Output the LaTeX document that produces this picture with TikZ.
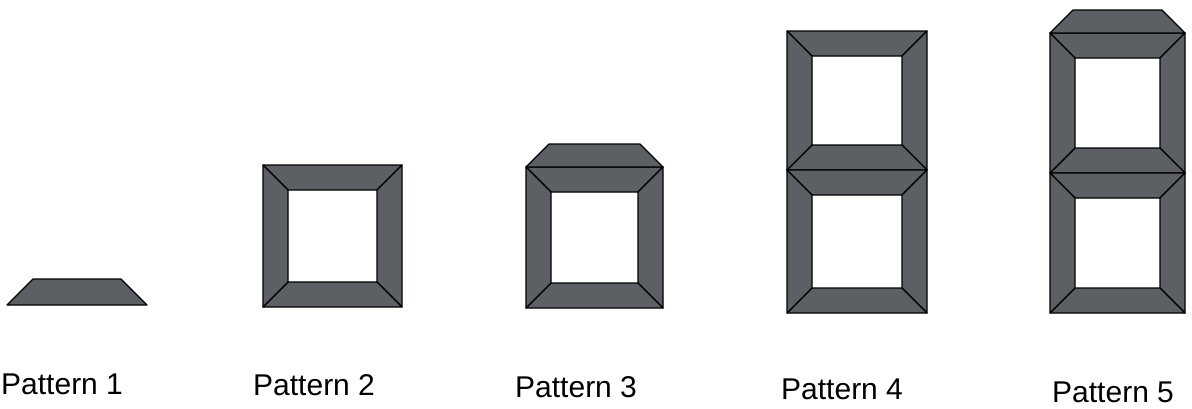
\documentclass[tikz,border=0pt]{standalone}
\usepackage{fontspec}
\setmainfont{Liberation Sans}
\definecolor{bargray}{RGB}{92,96,101}
\tikzset{
  bar/.style={fill=bargray,draw=black,line width=1.2pt,line join=round},
  lab/.style={anchor=base west,inner sep=0pt,font=\fontsize{30}{36}\selectfont}
}
% frame of four trapezoids: x0 y0 x1 y1 thickness (y grows downward)
\newcommand\pframe[5]{%
  \draw[bar] (#1,#2) -- (#3,#2) -- ({#3-#5},{#2+#5}) -- ({#1+#5},{#2+#5}) -- cycle;
  \draw[bar] (#3,#2) -- (#3,#4) -- ({#3-#5},{#4-#5}) -- ({#3-#5},{#2+#5}) -- cycle;
  \draw[bar] (#1,#4) -- (#3,#4) -- ({#3-#5},{#4-#5}) -- ({#1+#5},{#4-#5}) -- cycle;
  \draw[bar] (#1,#2) -- (#1,#4) -- ({#1+#5},{#4-#5}) -- ({#1+#5},{#2+#5}) -- cycle;
}
% cap trapezoid standing on a base: x0 x1 ybase height
\newcommand\pcap[4]{%
  \draw[bar] (#1,#3) -- (#2,#3) -- ({#2-#4},{#3-#4}) -- ({#1+#4},{#3-#4}) -- cycle;
}
\begin{document}
\begin{tikzpicture}[x=1pt,y=-1pt]
\useasboundingbox (0,0) rectangle (1192,408);
% Pattern 1
\pcap{7}{147}{305}{26}
% Pattern 2
\pframe{263}{165}{402}{307}{25}
% Pattern 3
\pframe{526}{167}{663}{308}{25}
\pcap{526}{663}{167}{23}
% Pattern 4
\pframe{787}{31}{927}{170}{25}
\pframe{787}{170}{927}{313}{25}
% Pattern 5
\pframe{1050}{33}{1185}{173}{25}
\pframe{1050}{173}{1185}{313}{25}
\pcap{1050}{1185}{33}{23}
% labels
\node[lab] (l1) at (1,394) {Pattern 1};
\node[lab] (l2) at (253,395) {Pattern 2};
\node[lab] (l3) at (515,397) {Pattern 3};
\node[lab] (l4) at (781,399) {Pattern 4};
\node[lab] (l5) at (1052,402) {Pattern 5};
\end{tikzpicture}
\end{document}
